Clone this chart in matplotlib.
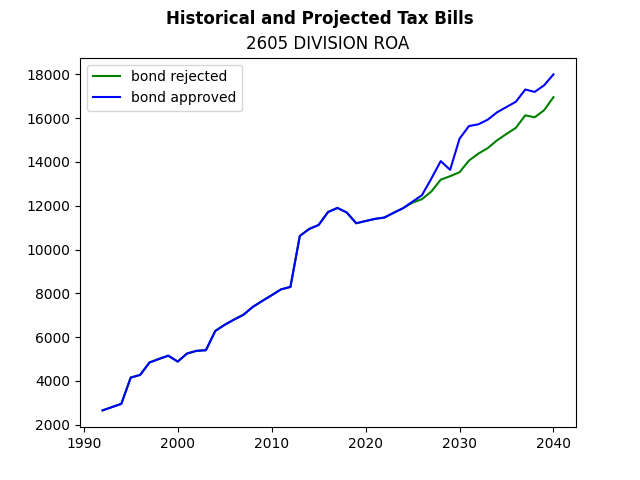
import matplotlib
matplotlib.use("Agg")
import matplotlib.pyplot as plt

# tax bill history (shared) and projections per scenario
years = list(range(1992, 2041))

history = [2650, 2800, 2950, 4150, 4270, 4840, 5000, 5150, 4880, 5250,
           5370, 5400, 6280, 6560, 6800, 7020, 7380, 7650, 7910, 8180,
           8290, 10620, 10940, 11120, 11710, 11900, 11690, 11200, 11300, 11400,
           11460, 11680, 11890]

rejected_proj = [12140, 12300, 12650, 13190, 13350, 13530, 14060, 14380, 14630,
                 14990, 15280, 15560, 16130, 16040, 16360, 16960]
approved_proj = [12190, 12480, 13240, 14040, 13640, 15060, 15640, 15720, 15930,
                 16270, 16510, 16750, 17310, 17200, 17500, 18000]

bond_rejected = history + rejected_proj
bond_approved = history + approved_proj


fig, ax = plt.subplots()
ax.plot(years, bond_rejected, color='green', label='bond rejected')
ax.plot(years, bond_approved, color='blue', label='bond approved')
fig.suptitle('Historical and Projected Tax Bills', fontweight='bold')
ax.set_title('2605 DIVISION ROA')
ax.legend(loc='upper left')

plt.savefig('out.png')
